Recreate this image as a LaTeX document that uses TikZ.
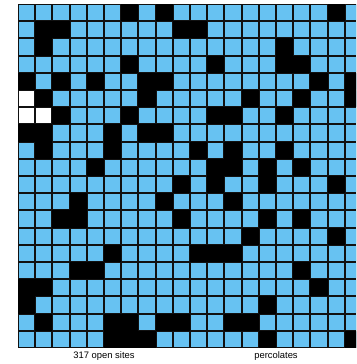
\documentclass[tikz,border=0pt]{standalone}
\usepackage{fontspec}
\setmainfont{Liberation Sans}
\usepackage{tikz}
\definecolor{fullsite}{RGB}{103,194,242}
\definecolor{gridline}{HTML}{111111}

\begin{document}
\begin{tikzpicture}[x=1pt,y=-1pt]
  \useasboundingbox (0,0) rectangle (356,364);
  \clip (0,0) rectangle (356,364);
  \fill[gridline] (18,4) rectangle (362,348);
  % every site full first
  \foreach \r in {0,...,19} {
    \foreach \c in {0,...,19} {
      \fill[fullsite] (19+17.2*\c,5+17.2*\r) rectangle ++(15.2,15.2);
    }
  }
  % blocked sites, row/columns
  \foreach \r/\cols in {0/{6,8,18},1/{1,2,9,10},2/{1,15},3/{6,11,15,16},
      4/{0,2,4,7,8,17,19},5/{1,7,13,16,19},6/{2,6,11,12,15},7/{0,1,5,7,8},
      8/{1,5,10,12,15},9/{4,11,12,14,16},10/{9,11,14,18},11/{3,8,12},
      12/{2,3,9,14,16},13/{13,18},14/{5,10,11,12},15/{3,4,16},16/{0,1,17},
      17/{0,14},18/{1,5,6,8,9,12,13},19/{5,6,7,14,19}} {
    \foreach \c in \cols {
      \fill[black] (18+17.2*\c,4+17.2*\r) rectangle ++(17.2,17.2);
    }
  }
  % open but not full
  \foreach \c/\r in {0/5,0/6,1/6} {
    \fill[white] (19+17.2*\c,5+17.2*\r) rectangle ++(15.2,15.2);
  }
  \node[font=\fontsize{9.4}{11}\selectfont] (opencount) at (104,356) {317 open sites};
  \node[font=\fontsize{9.4}{11}\selectfont] (status) at (276,356) {percolates};
\end{tikzpicture}
\end{document}
